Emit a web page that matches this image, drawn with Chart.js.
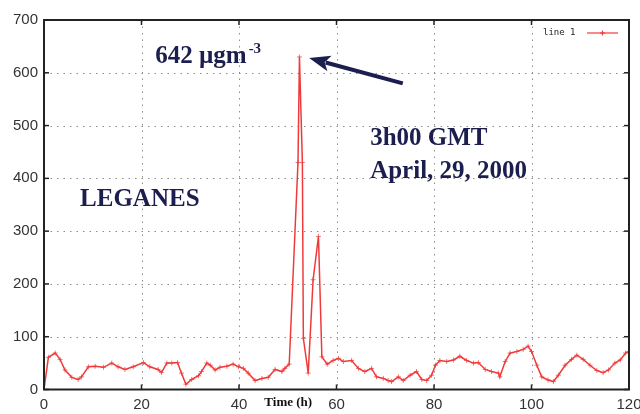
<!DOCTYPE html>
<html><head><meta charset="utf-8">
<script src="https://cdn.jsdelivr.net/npm/chart.js@4"></script>
<style>html,body{margin:0;padding:0;background:#fff}</style>
</head><body>
<canvas id="c" width="640" height="414"></canvas>
<script>
// ---- data ----
const times = [0, 0.9, 2.3, 3.3, 4.3, 5.7, 7.0, 7.7, 9.1, 10.5, 12.2, 13.9, 15.2, 16.6, 18.3, 20.4, 21.7, 23.4, 24.1, 25.2, 26.2, 27.4, 28.2, 29.1, 30.3, 31.7, 32.3, 33.4, 34.1, 35.1, 36.1, 37.5, 38.8, 39.9, 40.9, 41.9, 43.3, 44.7, 46.0, 47.4, 48.8, 49.4, 50.3, 52.1, 52.4, 53.0, 53.2, 54.2, 55.2, 56.3, 57.0, 58.1, 59.3, 60.4, 61.4, 63.1, 64.5, 65.8, 67.2, 68.2, 69.6, 70.6, 71.3, 72.7, 73.7, 75.1, 76.4, 77.5, 78.5, 79.5, 80.3, 81.2, 82.6, 84.0, 85.3, 86.7, 88.1, 89.1, 90.5, 91.8, 93.2, 93.5, 94.6, 95.6, 97.0, 98.3, 99.3, 100.0, 101.1, 102.1, 103.4, 104.5, 105.5, 106.9, 108.2, 109.3, 110.6, 112.0, 113.4, 114.7, 115.8, 117.1, 118.2, 119.3, 120];
const values = [0, 61, 69, 57, 37, 23, 19, 24, 43, 44, 42, 50, 43, 38, 43, 51, 43, 38, 32, 50, 50, 51, 31, 10, 19, 26, 34, 50, 46, 37, 42, 44, 48, 43, 40, 31, 17, 21, 23, 38, 34, 40, 48, 430, 630, 430, 97, 31, 208, 290, 62, 48, 55, 59, 53, 55, 40, 34, 40, 24, 21, 17, 15, 24, 17, 27, 34, 19, 17, 27, 46, 55, 53, 56, 63, 55, 50, 51, 38, 34, 31, 24, 53, 69, 72, 76, 82, 72, 46, 24, 18, 15, 27, 46, 57, 65, 57, 46, 36, 32, 37, 50, 56, 69, 72];
const xTicks = [0, 20, 40, 60, 80, 100, 120];
const yTicks = [0, 100, 200, 300, 400, 500, 600, 700];
const seriesLabel = 'line 1';
const xTitle = 'Time (h)';
const peakText = '642 \u00b5gm';
const peakSup = '-3';
const dateLines = ['3h00 GMT', 'April, 29, 2000'];
const siteText = 'LEGANES';
// annotation anchors in data units [time, value]
const peakTextAt = [22.8, 618];
const dateAt = [66.9, 463, 400];
const siteAt = [7.4, 347];
const arrowTail = [73.6, 580];
const arrowHead = [54.4, 628];

const navy = '#1b1e4e';
const red = '#f03a3a';

const deco = {
  id: 'deco',
  beforeDatasetsDraw(chart) {
    const {ctx, chartArea: a, scales: {x, y}} = chart;
    ctx.save();
    ctx.strokeStyle = '#8c8c8c';
    ctx.lineWidth = 1;
    ctx.setLineDash([1.5, 5]);
    xTicks.forEach(v => {
      if (v === x.min || v === x.max) return;
      const p = Math.round(x.getPixelForValue(v)) + 0.5;
      ctx.beginPath(); ctx.moveTo(p, a.top); ctx.lineTo(p, a.bottom); ctx.stroke();
    });
    yTicks.forEach(v => {
      if (v === y.min || v === y.max) return;
      const p = Math.round(y.getPixelForValue(v)) + 0.5;
      ctx.beginPath(); ctx.moveTo(a.left, p); ctx.lineTo(a.right, p); ctx.stroke();
    });
    ctx.restore();
  },
  afterDatasetsDraw(chart) {
    const {ctx, chartArea: a, scales: {x, y}} = chart;
    ctx.save();
    // frame
    ctx.strokeStyle = '#222';
    ctx.lineWidth = 2;
    ctx.strokeRect(a.left, a.top, a.right - a.left, a.bottom - a.top);
    // inward tick marks on all sides
    ctx.lineWidth = 1.5;
    xTicks.forEach(v => {
      const p = x.getPixelForValue(v);
      ctx.beginPath(); ctx.moveTo(p, a.bottom); ctx.lineTo(p, a.bottom - 5); ctx.stroke();
      ctx.beginPath(); ctx.moveTo(p, a.top); ctx.lineTo(p, a.top + 5); ctx.stroke();
    });
    yTicks.forEach(v => {
      const p = y.getPixelForValue(v);
      ctx.beginPath(); ctx.moveTo(a.left, p); ctx.lineTo(a.left + 5, p); ctx.stroke();
      ctx.beginPath(); ctx.moveTo(a.right, p); ctx.lineTo(a.right - 5, p); ctx.stroke();
    });
    // x title
    ctx.fillStyle = '#111';
    ctx.font = 'bold 13px "Liberation Serif", serif';
    ctx.textAlign = 'center';
    ctx.textBaseline = 'alphabetic';
    ctx.fillText(xTitle, x.getPixelForValue(50.1), a.bottom + 16);
    // annotations
    ctx.fillStyle = navy;
    ctx.textAlign = 'left';
    ctx.font = 'bold 25px "Liberation Serif", serif';
    const px = x.getPixelForValue(peakTextAt[0]), py = y.getPixelForValue(peakTextAt[1]);
    ctx.fillText(peakText, px, py);
    const w = ctx.measureText(peakText).width;
    ctx.font = 'bold 15px "Liberation Serif", serif';
    ctx.fillText(peakSup, px + w + 2, py - 10);
    ctx.font = 'bold 25px "Liberation Serif", serif';
    ctx.fillText(dateLines[0], x.getPixelForValue(dateAt[0]), y.getPixelForValue(dateAt[1]));
    ctx.fillText(dateLines[1], x.getPixelForValue(dateAt[0]), y.getPixelForValue(dateAt[2]));
    ctx.fillText(siteText, x.getPixelForValue(siteAt[0]), y.getPixelForValue(siteAt[1]));
    // arrow
    const tx = x.getPixelForValue(arrowTail[0]), ty = y.getPixelForValue(arrowTail[1]);
    const hx = x.getPixelForValue(arrowHead[0]), hy = y.getPixelForValue(arrowHead[1]);
    const ang = Math.atan2(hy - ty, hx - tx);
    const L = 21, H = 8;
    const bx = hx - L * Math.cos(ang), by = hy - L * Math.sin(ang);
    ctx.strokeStyle = navy; ctx.lineWidth = 4; ctx.lineCap = 'butt';
    ctx.beginPath(); ctx.moveTo(tx, ty); ctx.lineTo(bx + 4 * Math.cos(ang), by + 4 * Math.sin(ang)); ctx.stroke();
    ctx.beginPath();
    ctx.moveTo(hx, hy);
    ctx.lineTo(bx + H * Math.sin(ang), by - H * Math.cos(ang));
    ctx.lineTo(bx + 5 * Math.cos(ang), by + 5 * Math.sin(ang));
    ctx.lineTo(bx - H * Math.sin(ang), by + H * Math.cos(ang));
    ctx.closePath(); ctx.fill();
    // legend (inside, top right)
    ctx.fillStyle = '#222';
    ctx.font = '9px "DejaVu Sans Mono", monospace';
    ctx.textAlign = 'left';
    ctx.textBaseline = 'middle';
    const ly = a.top + 13;
    ctx.fillText(seriesLabel, a.right - 86, ly);
    ctx.strokeStyle = red; ctx.lineWidth = 1.2;
    ctx.beginPath(); ctx.moveTo(a.right - 42, ly); ctx.lineTo(a.right - 11, ly); ctx.stroke();
    const cx = a.right - 26.5;
    ctx.beginPath(); ctx.moveTo(cx - 2.5, ly); ctx.lineTo(cx + 2.5, ly); ctx.moveTo(cx, ly - 2.5); ctx.lineTo(cx, ly + 2.5); ctx.stroke();
    ctx.restore();
  }
};

new Chart(document.getElementById('c'), {
  type: 'line',
  data: {
    datasets: [{
      label: seriesLabel,
      data: times.map((t, i) => ({x: t, y: values[i]})),
      borderColor: red,
      backgroundColor: red,
      borderWidth: 1.5,
      pointStyle: 'cross',
      pointRadius: 2.5,
      pointBorderWidth: 1,
      pointBorderColor: 'rgba(240,58,58,0.7)',
      tension: 0,
      fill: false
    }]
  },
  options: {
    responsive: false,
    animation: false,
    devicePixelRatio: 1,
    layout: {padding: {top: 20, right: 11, left: 0, bottom: 0}},
    plugins: {legend: {display: false}, tooltip: {enabled: false}},
    scales: {
      x: {
        type: 'linear', min: 0, max: 120,
        afterBuildTicks: s => { s.ticks = xTicks.map(v => ({value: v})); },
        afterFit: s => { s.height = 24.5; s.paddingLeft = 0; s.paddingRight = 0; },
        grid: {display: false, drawTicks: false},
        border: {display: false},
        ticks: {color: '#333', font: {family: 'Liberation Sans', size: 15}, padding: 6, maxRotation: 0, autoSkip: false}
      },
      y: {
        type: 'linear', min: 0, max: 700,
        afterBuildTicks: s => { s.ticks = yTicks.map(v => ({value: v})); },
        afterFit: s => { s.width = 44; s.paddingTop = 0; s.paddingBottom = 0; },
        grid: {display: false, drawTicks: false},
        border: {display: false},
        ticks: {color: '#333', font: {family: 'Liberation Sans', size: 15}, padding: 6}
      }
    }
  },
  plugins: [deco]
});
</script>
</body></html>
